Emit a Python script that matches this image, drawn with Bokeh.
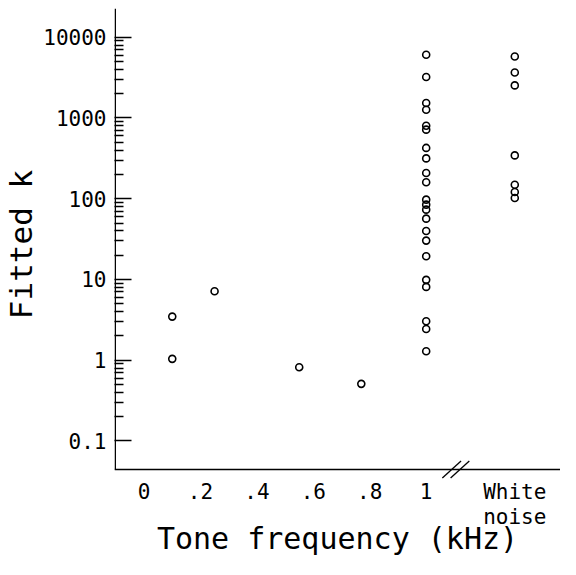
from bokeh.plotting import figure
from bokeh.models import Range1d, FixedTicker, Span
from bokeh.embed import file_html
from bokeh.resources import INLINE
import numpy as np

# ---- data ----
tone_x = [0.1, 0.1, 0.25, 0.55, 0.77]
tone_k = [3.47, 1.04, 7.14, 0.82, 0.51]

khz1_k = [6070, 3215, 1535, 1267, 803, 717, 426, 316, 208, 160, 97.5, 84.5,
          73.3, 56.7, 39.9, 30.3, 19.4, 9.9, 8.1, 3.04, 2.44, 1.29]
WN_X = 1.314
noise_k = [5785, 3666, 2534, 344, 149, 121, 102]

x_ticks = [0, 0.2, 0.4, 0.6, 0.8, 1, WN_X]
x_tick_labels = ["0", ".2", ".4", ".6", ".8", "1", "White\nnoise"]
y_ticks = [0.1, 1, 10, 100, 1000, 10000]
y_tick_labels = ["0.1", "1", "10", "100", "1000", "10000"]
BREAK_X = 1.105
Y_AXIS_AT = 0.0443     # where the horizontal axis line is drawn

FONT = "DejaVu Sans Mono"

W, H = 560, 559
BL, BB, BT = 107, 79, 8
XLO, XHI = -0.1047, 1.476
YLO, YHI = 0.0324, 22700

p = figure(width=W, height=H, output_backend="svg", toolbar_location=None,
           x_range=Range1d(XLO, XHI), y_range=Range1d(YLO, YHI),
           y_axis_type="log", min_border_left=BL, min_border_right=0,
           min_border_top=BT, min_border_bottom=BB)
p.outline_line_color = None
p.xgrid.visible = False
p.ygrid.visible = False

# pixel -> data helpers (for axis decorations only)
pxx = (XHI - XLO) / (W - BL)
log_ax = np.log10(Y_AXIS_AT)
pxy = (np.log10(YHI) - np.log10(YLO)) / (H - BB - BT)

# axis lines
p.add_layout(Span(location=Y_AXIS_AT, dimension="width", line_color="black",
                  line_width=1.5))
xl = XLO + 0.75 * pxx
p.line([xl, xl], [Y_AXIS_AT, YHI], line_color="black", line_width=1.5)

# axis break marks
for c in (-4.2, 4.2):
    p.segment(x0=BREAK_X + (c - 9.5) * pxx, y0=10 ** (log_ax - 8.5 * pxy),
              x1=BREAK_X + (c + 9.5) * pxx, y1=10 ** (log_ax + 8.5 * pxy),
              line_color="black", line_width=1.3)

all_x = tone_x + [1] * len(khz1_k) + [WN_X] * len(noise_k)
all_y = tone_k + khz1_k + noise_k
p.scatter(all_x, all_y, marker="circle", size=7, fill_color=None,
          line_color="black", line_width=1.6)

minor = [m * 10.0 ** e for e in range(-1, 4) for m in range(2, 10)]

ya = p.yaxis[0]
ya.ticker = FixedTicker(ticks=y_ticks, minor_ticks=minor)
ya.major_label_overrides = {t: l for t, l in zip(y_ticks, y_tick_labels)}
ya.axis_line_color = None
ya.major_tick_in = 17
ya.major_tick_out = 0
ya.minor_tick_in = 9
ya.minor_tick_out = 0
ya.major_tick_line_width = 1.5
ya.minor_tick_line_width = 1.5
ya.major_label_text_font = FONT
ya.major_label_text_font_size = "21px"
ya.major_label_text_color = "black"
ya.major_label_standoff = 8
ya.axis_label = "Fitted k"
ya.axis_label_text_font = FONT
ya.axis_label_text_font_size = "31px"
ya.axis_label_text_font_style = "normal"
ya.axis_label_text_color = "black"
ya.axis_label_standoff = 1

xa = p.xaxis[0]
xa.ticker = FixedTicker(ticks=x_ticks)
xa.major_label_overrides = {t: l for t, l in zip(x_ticks, x_tick_labels)}
xa.axis_line_color = None
xa.major_tick_in = 0
xa.major_tick_out = 0
xa.minor_tick_in = 0
xa.minor_tick_out = 0
xa.major_label_text_font = FONT
xa.major_label_text_font_size = "21px"
xa.major_label_text_line_height = 1.05
xa.major_label_text_color = "black"
xa.major_label_standoff = -1
xa.axis_label = "Tone frequency (kHz)"
xa.axis_label_text_font = FONT
xa.axis_label_text_font_size = "30px"
xa.axis_label_text_font_style = "normal"
xa.axis_label_text_color = "black"
xa.axis_label_standoff = -11

open("out.html", "w").write(file_html(p, INLINE))
